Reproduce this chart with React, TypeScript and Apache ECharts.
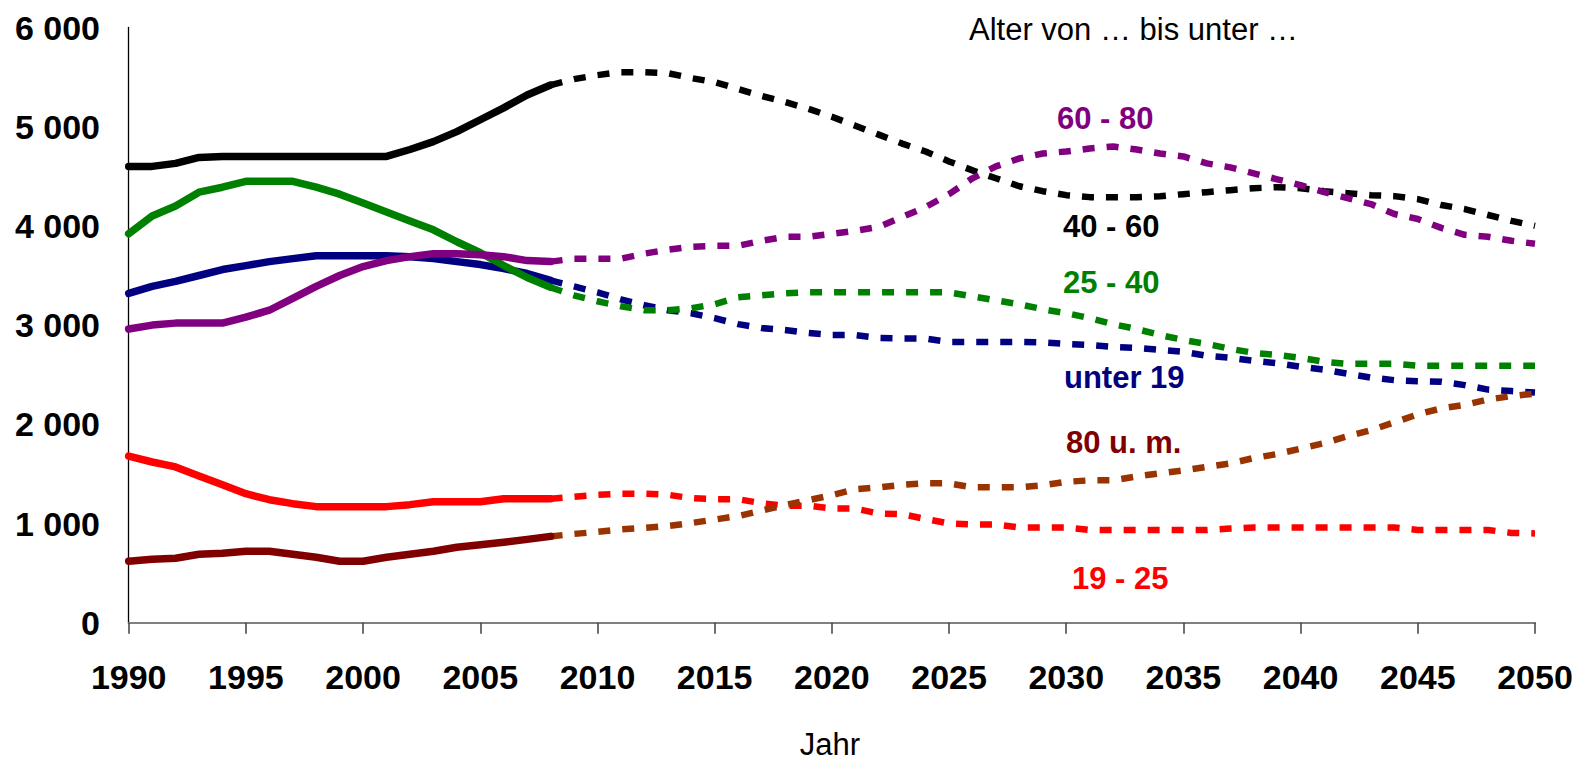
import React, { useEffect, useRef } from "react";
import * as echarts from "echarts";

// ---- data (population in thousands) ----
const HIST_START = 1990; // solid lines 1990..2008
const PROJ_START = 2008; // dashed lines 2008..2050

const Y_TICKS = [0, 1000, 2000, 3000, 4000, 5000, 6000];

// unter 19
const under19Hist = [3320, 3390, 3440, 3500, 3560, 3600, 3640, 3670, 3700, 3700, 3700, 3700, 3690, 3670, 3640, 3610, 3570, 3520, 3450];
const under19Proj = [3450, 3390, 3330, 3260, 3200, 3150, 3120, 3070, 3010, 2970, 2950, 2920, 2900, 2900, 2870, 2865, 2865, 2830, 2830, 2830, 2830, 2825, 2810, 2800, 2780, 2770, 2750, 2730, 2690, 2670, 2640, 2615, 2580, 2550, 2510, 2470, 2445, 2435, 2430, 2395, 2350, 2335, 2320];

// 19 - 25
const age19to25Hist = [1680, 1620, 1570, 1480, 1390, 1300, 1240, 1200, 1170, 1170, 1170, 1170, 1190, 1220, 1220, 1220, 1250, 1250, 1250];
const age19to25Proj = [1250, 1270, 1290, 1300, 1300, 1290, 1255, 1245, 1245, 1205, 1180, 1180, 1150, 1150, 1100, 1095, 1045, 1000, 990, 990, 960, 960, 960, 935, 935, 935, 935, 935, 935, 950, 960, 960, 960, 960, 960, 960, 960, 935, 935, 935, 935, 905, 900];

// 25 - 40
const age25to40Hist = [3920, 4100, 4200, 4340, 4390, 4450, 4450, 4450, 4390, 4320, 4230, 4140, 4050, 3960, 3840, 3730, 3600, 3480, 3380];
const age25to40Proj = [3380, 3300, 3240, 3190, 3150, 3150, 3170, 3210, 3280, 3300, 3320, 3330, 3330, 3330, 3330, 3330, 3330, 3330, 3290, 3250, 3210, 3160, 3120, 3070, 3010, 2960, 2900, 2850, 2810, 2760, 2720, 2700, 2670, 2630, 2610, 2610, 2610, 2590, 2590, 2590, 2590, 2590, 2590];

// 40 - 60
const age40to60Hist = [4600, 4600, 4630, 4690, 4700, 4700, 4700, 4700, 4700, 4700, 4700, 4700, 4770, 4850, 4950, 5070, 5190, 5320, 5420];
const age40to60Proj = [5420, 5480, 5520, 5550, 5550, 5540, 5490, 5450, 5380, 5310, 5250, 5180, 5100, 5010, 4920, 4830, 4750, 4650, 4560, 4480, 4400, 4350, 4310, 4290, 4290, 4290, 4300, 4320, 4340, 4360, 4380, 4390, 4380, 4350, 4330, 4310, 4300, 4270, 4210, 4170, 4110, 4050, 4000];

// 60 - 80
const age60to80Hist = [2960, 3000, 3020, 3020, 3020, 3080, 3150, 3270, 3390, 3500, 3590, 3650, 3690, 3720, 3720, 3710, 3690, 3650, 3640];
const age60to80Proj = [3640, 3670, 3670, 3670, 3720, 3760, 3790, 3800, 3800, 3850, 3890, 3890, 3920, 3950, 3990, 4090, 4190, 4320, 4480, 4600, 4680, 4730, 4750, 4780, 4800, 4770, 4730, 4700, 4630, 4590, 4530, 4470, 4410, 4340, 4280, 4220, 4120, 4070, 3980, 3910, 3890, 3850, 3820];

// 80 u. m.
const age80plusHist = [620, 640, 650, 690, 700, 720, 720, 690, 660, 620, 620, 660, 690, 720, 760, 785, 810, 840, 870];
const age80plusProj = [870, 895, 915, 940, 955, 975, 1005, 1040, 1075, 1130, 1185, 1235, 1285, 1345, 1365, 1390, 1405, 1405, 1365, 1365, 1365, 1385, 1420, 1435, 1435, 1475, 1505, 1535, 1570, 1605, 1660, 1700, 1755, 1810, 1880, 1940, 2020, 2100, 2160, 2195, 2250, 2285, 2310];

const GROUPS = [
  { name: "unter 19", hist: under19Hist, proj: under19Proj, color: "#000080", projColor: "#000080" },
  { name: "19 - 25", hist: age19to25Hist, proj: age19to25Proj, color: "#FF0000", projColor: "#FF0000" },
  { name: "25 - 40", hist: age25to40Hist, proj: age25to40Proj, color: "#008000", projColor: "#008000" },
  { name: "40 - 60", hist: age40to60Hist, proj: age40to60Proj, color: "#000000", projColor: "#000000" },
  { name: "60 - 80", hist: age60to80Hist, proj: age60to80Proj, color: "#800080", projColor: "#800080" },
  { name: "80 u. m.", hist: age80plusHist, proj: age80plusProj, color: "#800000", projColor: "#993300" },
];

// label annotations: [text, color, left x, center y]
const LABELS: [string, string, number, number][] = [
  ["60 - 80", "#800080", 1057, 118],
  ["40 - 60", "#000000", 1063, 226],
  ["25 - 40", "#008000", 1063, 282],
  ["unter 19", "#000080", 1064, 377],
  ["80 u. m.", "#800000", 1066, 442],
  ["19 - 25", "#FF0000", 1072, 578],
];

const TITLE_TEXT = "Alter von … bis unter …";
const X_NAME = "Jahr";

export default function App() {
  const ref = useRef<HTMLDivElement>(null);
  useEffect(() => {
    if (!ref.current) return;
    const chart = echarts.init(ref.current, undefined, { renderer: "svg" });
    const series: any[] = [];
    GROUPS.forEach((g) => {
      series.push({
        type: "line",
        name: g.name + " hist",
        data: g.hist.map((v, i) => [HIST_START + i, v]),
        showSymbol: false,
        symbol: "none",
        lineStyle: { color: g.color, width: 7.5, cap: "round", join: "round" },
        z: 3,
      });
      series.push({
        type: "line",
        name: g.name + " proj",
        data: g.proj.map((v, i) => [PROJ_START + i, v]),
        showSymbol: false,
        symbol: "none",
        lineStyle: { color: g.projColor, width: 6.5, type: [12, 12] },
        z: 2,
      });
    });

    const font = "'Liberation Sans', Arial, sans-serif";
    const graphic: any[] = [
      {
        type: "text",
        x: 969,
        y: 29,
        style: {
          text: TITLE_TEXT,
          font: `31px ${font}`,
          fill: "#000",
          align: "left",
          verticalAlign: "middle",
          textAlign: "left",
          textVerticalAlign: "middle",
        },
      },
      {
        type: "text",
        x: 830,
        y: 744,
        style: {
          text: X_NAME,
          font: `31px ${font}`,
          fill: "#000",
          align: "center",
          verticalAlign: "middle",
          textAlign: "center",
          textVerticalAlign: "middle",
        },
      },
      ...LABELS.map(([t, c, x, y]) => ({
        type: "text",
        x,
        y,
        style: {
          text: t,
          font: `bold 31px ${font}`,
          fill: c,
          align: "left",
          verticalAlign: "middle",
          textAlign: "left",
          textVerticalAlign: "middle",
        },
      })),
    ];

    chart.setOption({
      animation: false,
      backgroundColor: "#ffffff",
      grid: { left: 128.7, right: 54, top: 27.5, bottom: 142.3, containLabel: false },
      xAxis: {
        type: "value",
        min: 1990,
        max: 2050,
        interval: 5,
        axisLine: { show: true, lineStyle: { color: "#808080", width: 2 } },
        axisTick: { show: true, inside: false, length: 11, lineStyle: { color: "#404040", width: 1.5 } },
        splitLine: { show: false },
        axisLabel: {
          margin: 37,
          color: "#000",
          fontFamily: font,
          fontWeight: "bold",
          fontSize: 34,
          formatter: (v: number) => String(v),
        },
      },
      yAxis: {
        type: "value",
        min: Y_TICKS[0],
        max: Y_TICKS[Y_TICKS.length - 1],
        interval: 1000,
        axisLine: { show: true, lineStyle: { color: "#000", width: 1.3 } },
        axisTick: { show: false },
        splitLine: { show: false },
        axisLabel: {
          margin: 28.7,
          color: "#000",
          fontFamily: font,
          fontWeight: "bold",
          fontSize: 34,
          padding: [0, 0, 6, 0],
          formatter: (v: number) => (v === 0 ? "0" : `${v / 1000} 000`),
        },
      },
      series,
      graphic,
    });
    return () => chart.dispose();
  }, []);
  return (
    <div
      ref={ref}
      style={{ position: "fixed", left: 0, top: 0, width: 1589, height: 765, background: "#fff" }}
    />
  );
}
